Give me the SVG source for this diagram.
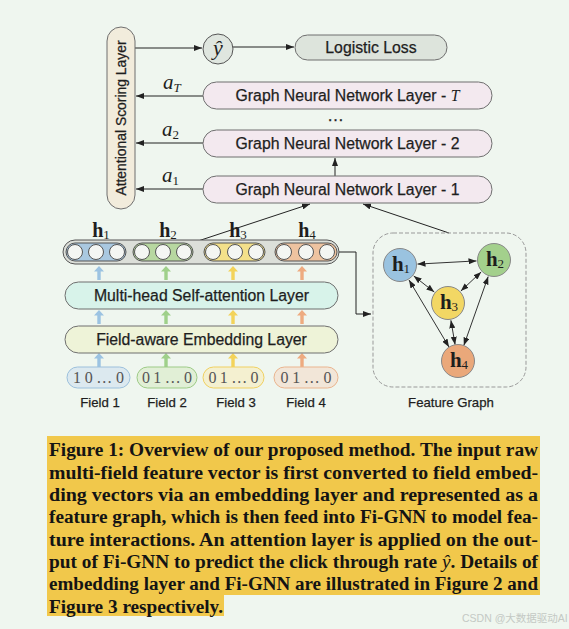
<svg xmlns="http://www.w3.org/2000/svg" width="569" height="629" viewBox="0 0 569 629">
<defs>
<style>
.sans{font-family:"Liberation Sans",Arial,sans-serif;fill:#1e1e1e;stroke:#1e1e1e;stroke-width:0.25}
.serif{font-family:"Liberation Serif","Times New Roman",serif;fill:#1e1e1e}
.pill{stroke:#6f6f6f;stroke-width:1}
.con{stroke:#222;stroke-width:1;fill:none}
.edge{stroke:#333;stroke-width:1;fill:none;marker-start:url(#ah);marker-end:url(#ah)}
.hc{fill:#f4f6f3;stroke:#555;stroke-width:1}
.ft{font-family:"Liberation Serif","Times New Roman",serif;font-size:16px;fill:#555}
.cap{font-family:"Liberation Serif","Times New Roman",serif;font-weight:bold;font-size:18px;fill:#141414}
</style>
<marker id="ah" viewBox="0 0 8 6" refX="8" refY="3" markerWidth="8" markerHeight="6" markerUnits="userSpaceOnUse" orient="auto-start-reverse">
<path d="M0,0 L8,3 L0,6 z" fill="#222"/>
</marker>
<path id="up" d="M-1.7,14 V5.5 H-5 L0,0 L5,5.5 H1.7 V14 Z"/>
</defs>
<rect width="569" height="629" fill="#eff6ef"/>

<g id="connectors">
<line class="con" x1="135" y1="48" x2="202" y2="48" marker-end="url(#ah)"/>
<line class="con" x1="233" y1="47" x2="294" y2="47" marker-end="url(#ah)"/>
<line class="con" x1="203" y1="96" x2="136" y2="96" marker-end="url(#ah)"/>
<line class="con" x1="203" y1="143" x2="136" y2="143" marker-end="url(#ah)"/>
<line class="con" x1="203" y1="189" x2="136" y2="189" marker-end="url(#ah)"/>
<line class="con" x1="335" y1="176" x2="335" y2="158" stroke="#666" marker-end="url(#ah)"/>
<line class="con" x1="198" y1="241" x2="310" y2="204" marker-end="url(#ah)"/>
<line class="con" x1="449" y1="233" x2="363" y2="204" marker-end="url(#ah)"/>
<polyline class="con" points="337,252 356,252 356,314 371,314" stroke="#555" marker-end="url(#ah)"/>
<use href="#up" x="99" y="266" fill="#9cc3e2"/>
<use href="#up" x="166" y="266" fill="#9fd08a"/>
<use href="#up" x="233" y="266" fill="#f3d35a"/>
<use href="#up" x="302" y="266" fill="#eeab80"/>
<use href="#up" x="99" y="310" fill="#9cc3e2"/>
<use href="#up" x="166" y="310" fill="#9fd08a"/>
<use href="#up" x="233" y="310" fill="#f3d35a"/>
<use href="#up" x="302" y="310" fill="#eeab80"/>
<use href="#up" x="99" y="353" fill="#9cc3e2"/>
<use href="#up" x="166" y="353" fill="#9fd08a"/>
<use href="#up" x="233" y="353" fill="#f3d35a"/>
<use href="#up" x="302" y="353" fill="#eeab80"/>
<line class="edge" x1="417.5" y1="264.1" x2="476.5" y2="260.9"/>
<line class="edge" x1="413.7" y1="275.9" x2="434.3" y2="292.1"/>
<line class="edge" x1="481.2" y1="271.9" x2="460.8" y2="291.1"/>
<line class="edge" x1="409" y1="280" x2="449" y2="347"/>
<line class="edge" x1="450.9" y1="320.3" x2="455.1" y2="344.7"/>
<line class="edge" x1="488.2" y1="276.5" x2="463.8" y2="345.5"/>
</g>

<g id="scoring">
<rect class="pill" x="107" y="27" width="28" height="182" rx="14" fill="#f2ecdc"/>
<text class="sans" x="121" y="118" font-size="13.9" text-anchor="middle" dy="0.36em" transform="rotate(-90 121 118)">Attentional Scoring Layer</text>
</g>
<g id="yhat">
<circle cx="218" cy="49" r="15" fill="#dfe6df" stroke="#555"/>
<text class="serif" x="218" y="55" font-size="22" font-style="italic" text-anchor="middle">ŷ</text>
</g>
<g id="loss">
<rect class="pill" x="295" y="35" width="152" height="25" rx="12.5" fill="#dde4dc"/>
<text class="sans" x="371" y="53" font-size="15.8" text-anchor="middle">Logistic Loss</text>
</g>
<g id="gnnT">
<rect class="pill" x="203" y="82" width="289" height="27" rx="13.5" fill="#f3e9ef"/>
<text class="sans" x="347.5" y="101" font-size="15.8" text-anchor="middle">Graph Neural Network Layer - <tspan class="serif" font-style="italic" stroke-width="0">T</tspan></text>
<text class="serif" x="163" y="89" font-size="21" font-style="italic">a<tspan font-size="13" dy="3">T</tspan></text>
</g>
<g id="dots">
<text class="sans" x="327" y="121" font-size="16" textLength="17" lengthAdjust="spacingAndGlyphs">…</text>
</g>
<g id="gnn2">
<rect class="pill" x="203" y="130" width="289" height="27" rx="13.5" fill="#f3e9ef"/>
<text class="sans" x="347.5" y="149" font-size="15.8" text-anchor="middle">Graph Neural Network Layer - 2</text>
<text class="serif" x="162" y="136" font-size="21" font-style="italic">a<tspan font-size="13" font-style="normal" dy="3">2</tspan></text>
</g>
<g id="gnn1">
<rect class="pill" x="203" y="176" width="289" height="27" rx="13.5" fill="#f3e9ef"/>
<text class="sans" x="347.5" y="195" font-size="15.8" text-anchor="middle">Graph Neural Network Layer - 1</text>
<text class="serif" x="162" y="182" font-size="21" font-style="italic">a<tspan font-size="13" font-style="normal" dy="3">1</tspan></text>
</g>

<g id="hvec">
<rect x="63" y="240" width="276" height="24" rx="12" fill="#dcdfd9" stroke="#555"/>
<rect x="66" y="243" width="60" height="18" rx="9" fill="#a9c8e0" stroke="#555"/>
<rect x="133" y="243" width="60" height="18" rx="9" fill="#b7d7a0" stroke="#555"/>
<rect x="204" y="243" width="61" height="18" rx="9" fill="#f3e08a" stroke="#555"/>
<rect x="275" y="243" width="62" height="18" rx="9" fill="#eec3a0" stroke="#555"/>
<circle class="hc" cx="75" cy="252" r="7.5"/><circle class="hc" cx="96" cy="252" r="7.5"/><circle class="hc" cx="117" cy="252" r="7.5"/>
<circle class="hc" cx="142" cy="252" r="7.5"/><circle class="hc" cx="163" cy="252" r="7.5"/><circle class="hc" cx="184" cy="252" r="7.5"/>
<circle class="hc" cx="213" cy="252" r="7.5"/><circle class="hc" cx="235" cy="252" r="7.5"/><circle class="hc" cx="256" cy="252" r="7.5"/>
<circle class="hc" cx="284" cy="252" r="7.5"/><circle class="hc" cx="306" cy="252" r="7.5"/><circle class="hc" cx="327" cy="252" r="7.5"/>
<text class="serif" x="101" y="237" font-size="20" font-weight="bold" text-anchor="middle">h<tspan font-size="13" font-weight="normal" dy="2">1</tspan></text>
<text class="serif" x="168" y="237" font-size="20" font-weight="bold" text-anchor="middle">h<tspan font-size="13" font-weight="normal" dy="2">2</tspan></text>
<text class="serif" x="238" y="237" font-size="20" font-weight="bold" text-anchor="middle">h<tspan font-size="13" font-weight="normal" dy="2">3</tspan></text>
<text class="serif" x="307" y="237" font-size="20" font-weight="bold" text-anchor="middle">h<tspan font-size="13" font-weight="normal" dy="2">4</tspan></text>
</g>

<g id="mhsa">
<rect class="pill" x="65" y="282" width="273" height="27" rx="13.5" fill="#d8f3ea"/>
<text class="sans" x="201.5" y="301" font-size="15.8" text-anchor="middle">Multi-head Self-attention Layer</text>
</g>
<g id="embed">
<rect class="pill" x="65" y="326" width="273" height="27" rx="13.5" fill="#eef3d8"/>
<text class="sans" x="201.5" y="345" font-size="15.8" text-anchor="middle">Field-aware Embedding Layer</text>
</g>

<g id="field1">
<rect x="67" y="367" width="63" height="21" rx="10.5" fill="#dce9ef" stroke="#9cc0dc"/>
<text class="ft" x="73" y="383" textLength="51" lengthAdjust="spacing">1 0 … 0</text>
<text class="sans" x="100" y="407" font-size="13.2" text-anchor="middle">Field 1</text>
</g>
<g id="field2">
<rect x="137" y="367" width="60" height="21" rx="10.5" fill="#e1efd6" stroke="#9dcb86"/>
<text class="ft" x="142" y="383" textLength="50" lengthAdjust="spacing">0 1 … 0</text>
<text class="sans" x="167" y="407" font-size="13.2" text-anchor="middle">Field 2</text>
</g>
<g id="field3">
<rect x="203" y="367" width="61" height="21" rx="10.5" fill="#f4f0d0" stroke="#f0d060"/>
<text class="ft" x="208.5" y="383" textLength="50" lengthAdjust="spacing">0 1 … 0</text>
<text class="sans" x="236" y="407" font-size="13.2" text-anchor="middle">Field 3</text>
</g>
<g id="field4">
<rect x="274" y="367" width="64" height="21" rx="10.5" fill="#f2e6d8" stroke="#eab48e"/>
<text class="ft" x="280.5" y="383" textLength="51" lengthAdjust="spacing">0 1 … 0</text>
<text class="sans" x="306" y="407" font-size="13.2" text-anchor="middle">Field 4</text>
</g>

<g id="feature-graph">
<rect x="373" y="233" width="153" height="154" rx="20" fill="none" stroke="#999" stroke-dasharray="4 2"/>
<text class="sans" x="451" y="407" font-size="13.2" text-anchor="middle">Feature Graph</text>
</g>
<g id="g-h1">
<circle cx="400" cy="265" r="16.5" fill="#9ac3e0" stroke="#888"/>
<text class="serif" x="401" y="271" font-size="21" font-weight="bold" text-anchor="middle">h<tspan font-size="13" font-weight="normal" dy="2">1</tspan></text>
</g>
<g id="g-h2">
<circle cx="494" cy="260" r="16.5" fill="#a3d08c" stroke="#888"/>
<text class="serif" x="495" y="266" font-size="21" font-weight="bold" text-anchor="middle">h<tspan font-size="13" font-weight="normal" dy="2">2</tspan></text>
</g>
<g id="g-h3">
<circle cx="448" cy="303" r="16.5" fill="#f2d764" stroke="#888"/>
<text class="serif" x="449" y="309" font-size="21" font-weight="bold" text-anchor="middle">h<tspan font-size="13" font-weight="normal" dy="2">3</tspan></text>
</g>
<g id="g-h4">
<circle cx="458" cy="361" r="16.5" fill="#eaa87a" stroke="#888"/>
<text class="serif" x="459" y="367" font-size="21" font-weight="bold" text-anchor="middle">h<tspan font-size="13" font-weight="normal" dy="2">4</tspan></text>
</g>

<g id="caption">
<rect x="47" y="436" width="493" height="159" fill="#f1c84b"/>
<rect x="47" y="594" width="177" height="22" fill="#f1c84b"/>
<text class="cap" x="49" y="456" textLength="489" lengthAdjust="spacingAndGlyphs">Figure 1: Overview of our proposed method. The input raw</text>
<text class="cap" x="49" y="478.5" textLength="489" lengthAdjust="spacingAndGlyphs">multi-field feature vector is first converted to field embed-</text>
<text class="cap" x="49" y="501" textLength="489" lengthAdjust="spacingAndGlyphs">ding vectors via an embedding layer and represented as a</text>
<text class="cap" x="49" y="523.3" textLength="489" lengthAdjust="spacingAndGlyphs">feature graph, which is then feed into Fi-GNN to model fea-</text>
<text class="cap" x="49" y="545.7" textLength="489" lengthAdjust="spacingAndGlyphs">ture interactions. An attention layer is applied on the out-</text>
<text class="cap" x="49" y="568" textLength="489" lengthAdjust="spacingAndGlyphs">put of Fi-GNN to predict the click through rate <tspan font-style="italic" font-weight="normal">ŷ</tspan>. Details of</text>
<text class="cap" x="49" y="590.3" textLength="489" lengthAdjust="spacingAndGlyphs">embedding layer and Fi-GNN are illustrated in Figure 2 and</text>
<text class="cap" x="49" y="612.5" textLength="174" lengthAdjust="spacingAndGlyphs">Figure 3 respectively.</text>
</g>
<text x="462" y="622" font-size="10.5" fill="#c4c9c4" font-family="'Liberation Sans','Noto Sans CJK SC',sans-serif">CSDN @大数据驱动AI</text>
</svg>
